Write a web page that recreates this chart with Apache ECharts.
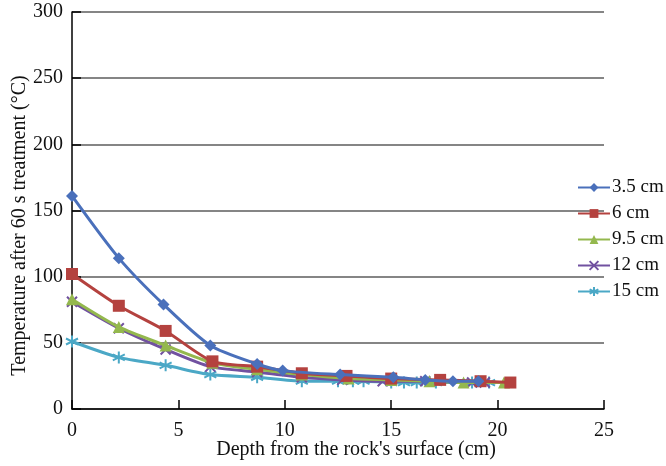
<!DOCTYPE html>
<html><head><meta charset="utf-8">
<script src="https://cdn.jsdelivr.net/npm/echarts@6/dist/echarts.min.js"></script>
<style>html,body{margin:0;padding:0;background:#fff}#c{width:666px;height:466px}</style>
</head><body><div id="c"></div>
<script>
var seriesNames = ['3.5 cm', '6 cm', '9.5 cm', '12 cm', '15 cm'];
var depth35 = [0, 2.2, 4.3, 6.5, 8.7, 9.9, 12.6, 15.1, 16.6, 17.9, 19.1];
var temp35  = [161, 114, 79, 48, 34, 29, 26, 24, 22, 21, 21];
var depth6  = [0, 2.2, 4.4, 6.6, 8.7, 10.8, 12.9, 15.0, 17.3, 19.2, 20.6];
var temp6   = [102, 78, 59, 36, 32, 27, 25, 23, 22, 21, 20];
var depth95 = [0, 2.2, 4.4, 6.6, 8.7, 10.8, 13.0, 15.0, 16.8, 18.4, 20.3];
var temp95  = [83, 62, 48, 35, 30, 26, 23, 22, 21, 20, 20];
var depth12 = [0, 2.2, 4.4, 6.5, 8.7, 10.8, 12.7, 14.6, 16.6, 18.8, 19.4];
var temp12  = [81, 61, 45, 32, 28, 24, 22, 21, 21, 20, 20];
var depth15 = [0, 2.2, 4.4, 6.5, 8.7, 10.8, 12.5, 13.2, 13.7, 15.0, 15.6, 16.2, 17.1, 18.8, 19.6];
var temp15  = [51, 39, 33, 26, 24, 21, 21, 21, 21, 20, 20, 20, 20, 20, 20];
var xTicks = [0, 5, 10, 15, 20, 25];
var yTicks = [0, 50, 100, 150, 200, 250, 300];

var colors = ['#4A70BB', '#B4423F', '#94B84E', '#7151A0', '#4BA8C6'];
var xPath = 'path://M0,0L10,10M10,0L0,10';
var starPath = 'path://M5,0L5,10M0,2.5L10,7.5M10,2.5L0,7.5';
var symbols = ['diamond', 'rect', 'triangle', xPath, starPath];
var symSizes = [12, 12, 12, 10, 12];
var depths = [depth35, depth6, depth95, depth12, depth15];
var temps = [temp35, temp6, temp95, temp12, temp15];

function pairs(xs, ys) { return xs.map(function (x, i) { return [x, ys[i]]; }); }

var series = seriesNames.map(function (n, i) {
  var stroke = i >= 3;
  return {
    name: n, type: 'line', smooth: 0.25,
    data: pairs(depths[i], temps[i]),
    symbol: symbols[i], symbolSize: symSizes[i],
    lineStyle: { color: colors[i], width: 3 },
    itemStyle: { color: colors[i], borderColor: colors[i], borderWidth: stroke ? 2 : 0 },
    z: 10 - i
  };
});

var font = 'Liberation Serif, Times New Roman, serif';
var chart = echarts.init(document.getElementById('c'));
chart.setOption({
  animation: false,
  textStyle: { fontFamily: font },
  grid: { left: 72, right: 62, top: 12, bottom: 57, containLabel: false, outerBoundsMode: 'none' },
  legend: {
    orient: 'vertical', left: 577, top: 178, itemGap: 7, padding: 0,
    itemWidth: 32, itemHeight: 11,
    textStyle: { fontFamily: font, fontSize: 19, color: '#111', padding: [0, 0, 0, -3] },
    data: seriesNames
  },
  xAxis: {
    type: 'value', min: 0, max: 25, interval: 5,
    name: "Depth from the rock's surface (cm)", nameLocation: 'middle', nameGap: 31,
    nameMoveOverlap: false,
    nameTextStyle: { fontFamily: font, fontSize: 20, color: '#111', padding: [0, 0, 0, 36] },
    axisLine: { show: true, lineStyle: { color: '#000', width: 1.5 } },
    axisTick: { show: true, inside: true, length: 9, lineStyle: { color: '#000', width: 1.5 } },
    axisLabel: { fontFamily: font, fontSize: 20, color: '#111', margin: 12 },
    splitLine: { show: false }
  },
  yAxis: {
    type: 'value', min: 0, max: 300, interval: 50,
    name: 'Temperature after 60 s treatment (°C)', nameLocation: 'middle', nameGap: 42,
    nameMoveOverlap: false,
    nameTextStyle: { fontFamily: font, fontSize: 20, color: '#111', padding: [0, 0, 0, -30] },
    axisLine: { show: true, lineStyle: { color: '#000', width: 1.5 } },
    axisTick: { show: true, inside: true, length: 9, lineStyle: { color: '#000', width: 1.5 } },
    axisLabel: { fontFamily: font, fontSize: 20, color: '#111', margin: 9 },
    splitLine: { show: true, lineStyle: { color: '#858585', width: 2 } }
  },
  series: series
});
</script></body></html>
